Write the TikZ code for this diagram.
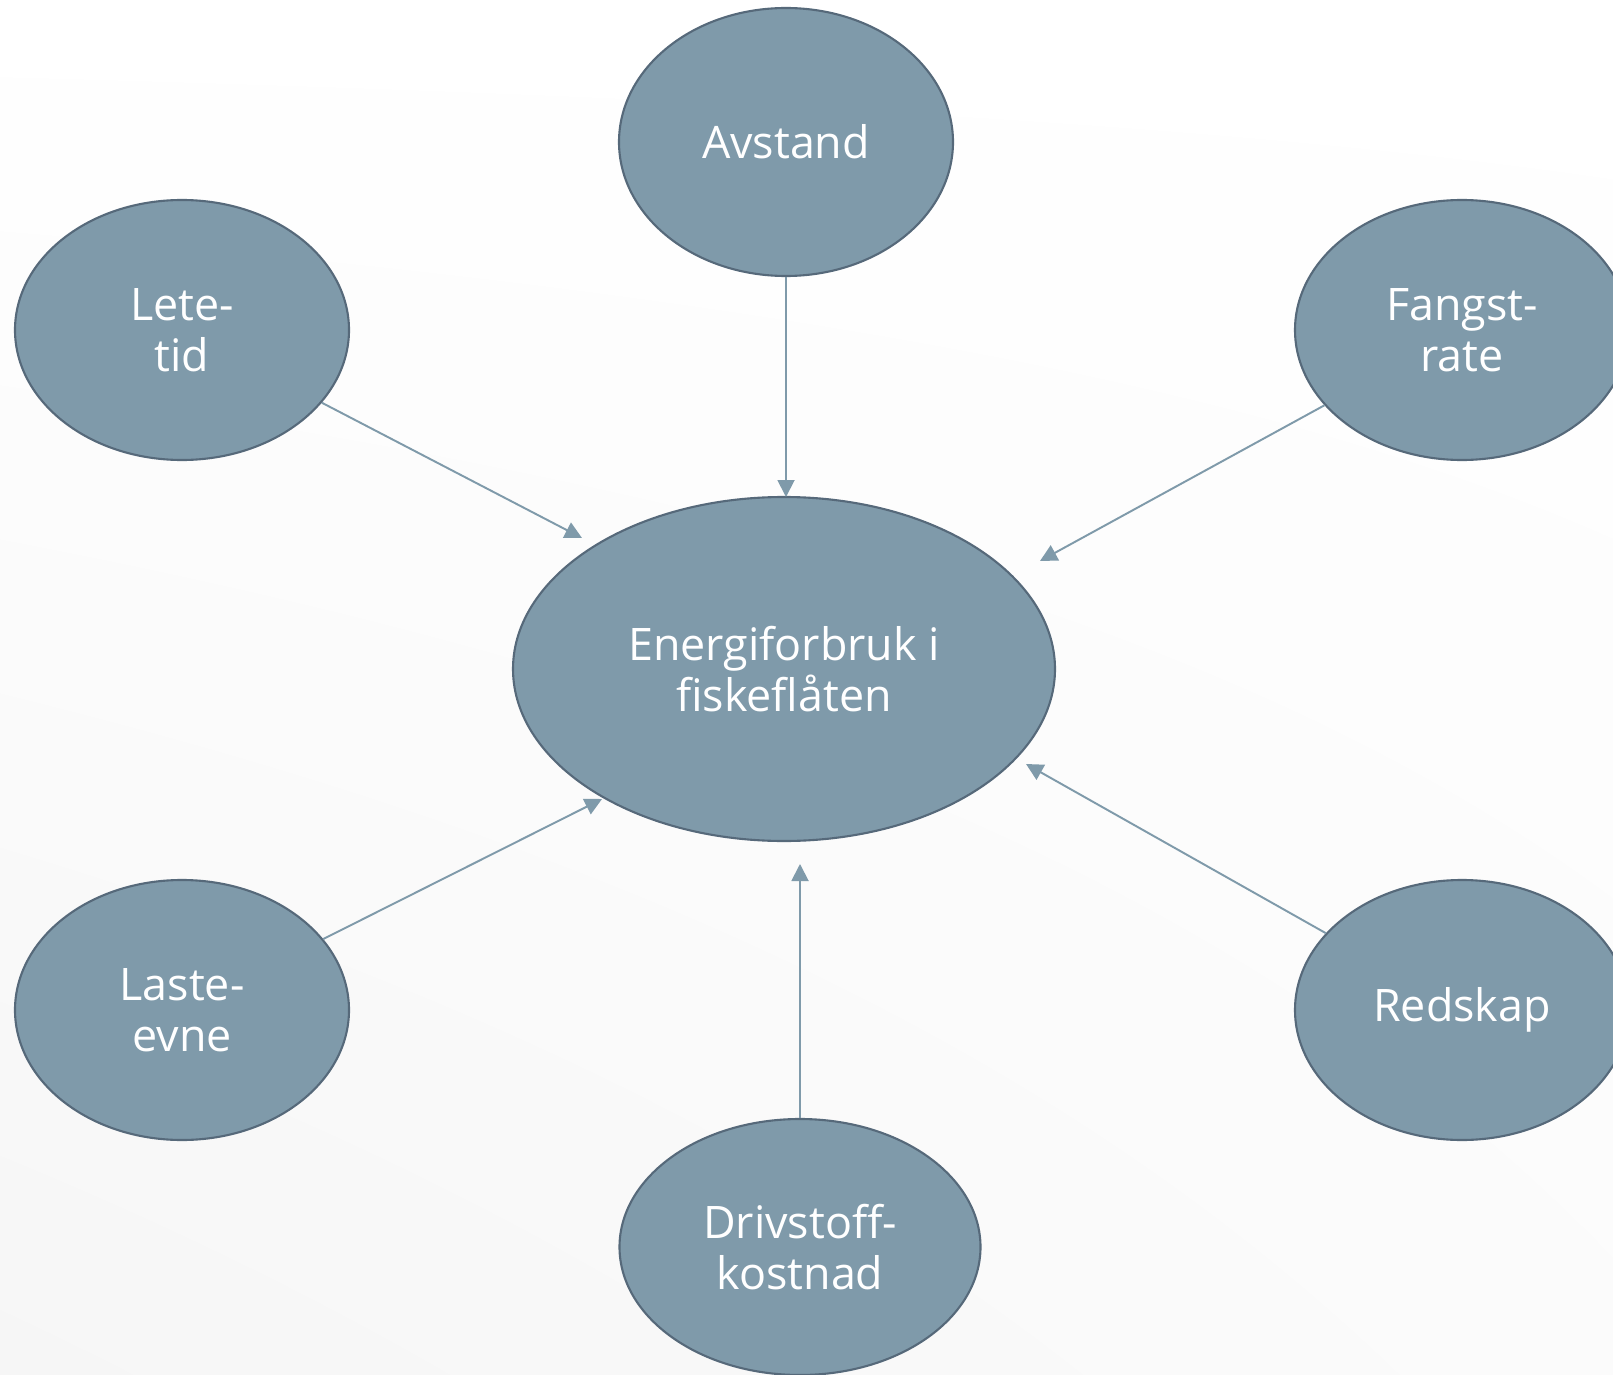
\documentclass[tikz,border=0pt]{standalone}
\usepackage{fontspec}
\setmainfont{Open Sans}
\usetikzlibrary{shapes.geometric,arrows.meta,shadings}
\definecolor{nodefill}{HTML}{7F9AAA}
\definecolor{nodeedge}{HTML}{56697A}
\definecolor{arrowcol}{HTML}{7F9AAA}
\tikzset{
  bubble/.style={ellipse, fill=nodefill, draw=nodeedge, line width=1.2pt, inner sep=0pt,
    text=white, align=center, font=\fontsize{25.5}{29}\selectfont},
  link/.style={draw=arrowcol, line width=1.1pt, -{Triangle[length=0.34cm,width=0.34cm]}}
}
\begin{document}
\begin{tikzpicture}[x=0.02cm,y=-0.02cm]
\clip (0,0) rectangle (1613,1375);
\shade[upper left=white, upper right=white, lower right=black!1.5, lower left=black!3.5] (0,0) rectangle (1613,1375);
\node[bubble, minimum width=334*0.02cm, minimum height=268*0.02cm] (avstand) at (786,142) {Avstand};
\node[bubble, minimum width=334*0.02cm, minimum height=260*0.02cm] (lete) at (182,330) {Lete-\\tid};
\node[bubble, minimum width=334*0.02cm, minimum height=260*0.02cm] (fangst) at (1462,330) {Fangst-\\rate};
\node[bubble, minimum width=542*0.02cm, minimum height=344*0.02cm] (energi) at (784,669) {Energiforbruk i\\fiskeflåten};
\node[bubble, minimum width=334*0.02cm, minimum height=260*0.02cm] (laste) at (182,1010) {Laste-\\evne};
\node[bubble, minimum width=334*0.02cm, minimum height=260*0.02cm] (redskap) at (1462,1010) {Redskap};
\node[bubble, minimum width=361*0.02cm, minimum height=256*0.02cm] (drivstoff) at (800,1247) {Drivstoff-\\kostnad};
\coordinate (tA) at (786,497);
\coordinate (tL) at (582,538);
\coordinate (tF) at (1040,561);
\coordinate (tLa) at (602,799);
\coordinate (tR) at (1026,764);
\coordinate (tD) at (800,864);
\draw[link] (avstand) -- (tA);
\draw[link] (lete) -- (tL);
\draw[link] (fangst) -- (tF);
\draw[link] (laste) -- (tLa);
\draw[link] (redskap) -- (tR);
\draw[link] (drivstoff) -- (tD);
\end{tikzpicture}
\end{document}
